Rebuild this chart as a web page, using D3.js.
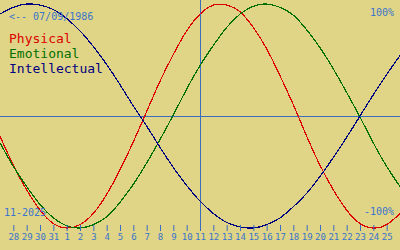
<!DOCTYPE html>
<html>
<head>
<meta charset="utf-8">
<script src="https://cdn.jsdelivr.net/npm/d3@7"></script>
<style>
  body { margin: 0; background: #e0d486; }
  svg { display: block; }
  text { font-family: "DejaVu Sans Mono", monospace; }
</style>
</head>
<body>
<svg width="400" height="250"></svg>
<script>
// days shown: 27 Oct .. 26 Nov (index 0..30), today = 11 Nov
var dayLabels = ["27","28","29","30","31","1","2","3","4","5","6","7","8","9","10","11","12","13","14","15","16","17","18","19","20","21","22","23","24","25","26"];
var physical = [-18,-44,-66,-84,-96,-100,-97,-87,-70,-48,-23,4,31,55,76,91,99,99,93,79,60,36,10,-18,-44,-66,-84,-96,-100,-97,-87];
var emotional = [-24,-45,-63,-79,-91,-98,-100,-97,-90,-77,-61,-42,-21,1,24,45,63,79,91,98,100,97,90,77,61,42,21,-1,-24,-45,-63];
var intellectual = [91,97,100,99,95,87,76,62,46,28,9,-9,-28,-46,-62,-76,-87,-95,-99,-100,-97,-91,-81,-69,-54,-37,-19,0,19,37,54];
var today = "11";
var birth = "<-- 07/09/1986";
var month = "11-2025";

var svg = d3.select("svg");
var blue = "#3a6cc0";
var textBlue = "#3a74cc";

var x = d3.scaleLinear().domain([0, dayLabels.length - 1]).range([0, 400]);
var y = d3.scaleLinear().domain([-100, 100]).range([228, 4]);

// zero line and today line
svg.append("line")
  .attr("x1", 0).attr("x2", 400)
  .attr("y1", Math.round(y(0)) + 0.5).attr("y2", Math.round(y(0)) + 0.5)
  .attr("stroke", blue);
var ti = dayLabels.indexOf(today);
svg.append("line")
  .attr("x1", Math.round(x(ti)) + 0.5).attr("x2", Math.round(x(ti)) + 0.5)
  .attr("y1", 0).attr("y2", 231)
  .attr("stroke", blue);

var series = [
  { name: "Physical", values: physical, color: "#dd0000" },
  { name: "Emotional", values: emotional, color: "#007000" },
  { name: "Intellectual", values: intellectual, color: "#000080" }
];

var line = d3.line()
  .x(function(d, i) { return x(i); })
  .y(function(d) { return y(d); })
  .curve(d3.curveNatural);

svg.selectAll("path.curve")
  .data(series)
  .enter().append("path")
  .attr("class", "curve")
  .attr("d", function(d) { return line(d.values); })
  .attr("fill", "none")
  .attr("stroke", function(d) { return d.color; })
  .attr("stroke-width", 1.2)
  .attr("shape-rendering", "crispEdges");

// day axis (first and last day are not labelled)
var tickIdx = d3.range(1, dayLabels.length - 1);
var axis = d3.axisBottom(x)
  .tickValues(tickIdx)
  .tickFormat(function(i) { return dayLabels[i]; })
  .tickSize(6)
  .tickPadding(3);
var g = svg.append("g")
  .attr("transform", "translate(0,225)")
  .call(axis);
g.select(".domain").remove();
g.selectAll(".tick line").attr("stroke", blue);
g.selectAll(".tick text")
  .attr("fill", textBlue)
  .style("font-family", "'DejaVu Sans Mono', monospace")
  .style("font-size", "9px");

// legend
svg.selectAll("text.legend")
  .data(series)
  .enter().append("text")
  .attr("class", "legend")
  .attr("x", 9)
  .attr("y", function(d, i) { return 43 + i * 15; })
  .attr("fill", function(d) { return d.color; })
  .style("font-size", "13px")
  .text(function(d) { return d.name; });

svg.append("text").attr("x", 9).attr("y", 20)
  .attr("fill", textBlue).style("font-size", "10px").text(birth);
svg.append("text").attr("x", 394).attr("y", 16).attr("text-anchor", "end")
  .attr("fill", textBlue).style("font-size", "10px").text("100%");
svg.append("text").attr("x", 4).attr("y", 216)
  .attr("fill", textBlue).style("font-size", "10px").text(month);
svg.append("text").attr("x", 394).attr("y", 215).attr("text-anchor", "end")
  .attr("fill", textBlue).style("font-size", "10px").text("-100%");
</script>
</body>
</html>
